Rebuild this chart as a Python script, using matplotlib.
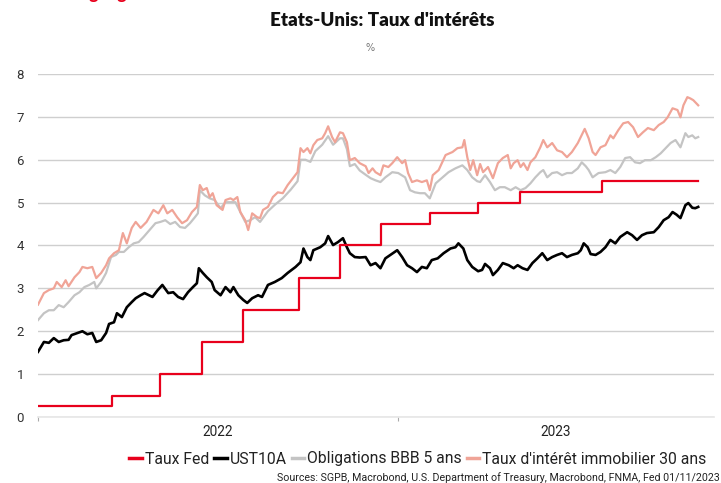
import matplotlib
matplotlib.use("Agg")
import matplotlib.pyplot as plt
from matplotlib import font_manager
from matplotlib.lines import Line2D
import pandas as pd

# ---------------- data ----------------
start = pd.Timestamp("2022-01-01")

fed_dates = ["2022-01-01", "2022-03-17", "2022-05-05", "2022-06-16", "2022-07-28",
             "2022-09-22", "2022-11-03", "2022-12-15", "2023-02-02", "2023-03-23",
             "2023-05-04", "2023-07-27", "2023-11-01"]
fed_values = [0.25, 0.5, 1.0, 1.75, 2.5, 3.25, 4.0, 4.5, 4.75, 5.0, 5.25, 5.5, 5.5]

# days since 2022-01-01
ust_days = [0, 6, 11, 16, 21, 26, 31, 34, 40, 45, 50, 55, 59, 64, 69, 72, 77, 80, 85, 90,
            95, 99, 104, 108, 116, 121, 126, 132, 137, 142, 147, 152, 157, 161, 163, 167,
            171, 176, 179, 185, 190, 195, 198, 203, 208, 212, 217, 223, 227, 233, 240, 247,
            253, 261, 266, 269, 273, 276, 279, 286, 291, 294, 299, 304, 309, 313, 316, 321,
            326, 332, 337, 342, 347, 352, 357, 364, 369, 374, 379, 384, 389, 394, 399, 405,
            411, 418, 423, 426, 431, 435, 440, 446, 450, 453, 458, 461, 466, 471, 477, 482,
            486, 491, 496, 501, 506, 511, 516, 521, 526, 531, 536, 541, 547, 550, 553, 557,
            560, 565, 570, 575, 580, 585, 590, 597, 602, 607, 612, 617, 624, 629, 634, 639,
            643, 647, 651, 656, 659, 663, 666, 669]
ust_values = [1.52, 1.75, 1.73, 1.84, 1.75, 1.79, 1.80, 1.91, 1.96, 2.00, 1.93, 1.96, 1.75,
              1.79, 1.96, 2.17, 2.21, 2.42, 2.33, 2.56, 2.68, 2.77, 2.84, 2.89, 2.80, 2.95,
              3.08, 2.89, 2.91, 2.80, 2.75, 2.91, 3.03, 3.12, 3.47, 3.36, 3.26, 3.15, 2.96,
              2.84, 3.03, 2.91, 3.03, 2.84, 2.73, 2.66, 2.77, 2.84, 2.80, 3.08, 3.15, 3.24,
              3.36, 3.50, 3.61, 3.93, 3.73, 3.66, 3.89, 3.96, 4.05, 4.22, 4.01, 4.08, 4.17,
              3.96, 3.82, 3.73, 3.72, 3.73, 3.54, 3.59, 3.47, 3.70, 3.78, 3.89, 3.73, 3.54,
              3.47, 3.38, 3.50, 3.47, 3.66, 3.70, 3.82, 3.93, 3.96, 4.05, 3.93, 3.66, 3.50,
              3.40, 3.43, 3.57, 3.47, 3.31, 3.43, 3.59, 3.54, 3.47, 3.54, 3.47, 3.43, 3.59,
              3.70, 3.82, 3.66, 3.73, 3.78, 3.82, 3.73, 3.78, 3.82, 3.89, 4.05, 3.96, 3.80,
              3.78, 3.85, 3.96, 4.13, 4.05, 4.20, 4.31, 4.24, 4.13, 4.24, 4.29, 4.31, 4.43,
              4.59, 4.66, 4.78, 4.72, 4.64, 4.94, 4.99, 4.88, 4.87, 4.90]

bbb_days = [0, 6, 11, 16, 21, 26, 31, 37, 42, 47, 52, 57, 59, 64, 69, 74, 79, 82, 87, 92,
            97, 102, 107, 113, 119, 124, 129, 134, 139, 144, 149, 154, 159, 162, 164, 169,
            174, 179, 185, 190, 195, 200, 205, 210, 215, 220, 225, 233, 240, 248, 256, 263,
            266, 271, 276, 281, 288, 294, 299, 306, 309, 313, 316, 321, 326, 332, 337, 342,
            347, 352, 359, 365, 372, 377, 382, 387, 392, 397, 403, 410, 416, 423, 430, 435,
            440, 445, 448, 453, 458, 463, 468, 473, 479, 484, 489, 494, 499, 504, 509, 512,
            516, 521, 526, 531, 536, 541, 547, 551, 555, 558, 562, 568, 575, 580, 585, 590,
            595, 600, 605, 610, 615, 621, 626, 631, 636, 641, 646, 651, 656, 659, 663, 666, 669]
bbb_values = [2.26, 2.42, 2.49, 2.49, 2.61, 2.56, 2.68, 2.84, 2.91, 3.03, 3.08, 3.15, 3.00,
              3.15, 3.36, 3.73, 3.78, 3.85, 3.85, 3.96, 4.05, 4.08, 4.20, 4.36, 4.52, 4.55,
              4.59, 4.50, 4.55, 4.43, 4.41, 4.52, 4.66, 4.75, 5.29, 5.17, 5.10, 5.06, 4.87,
              5.01, 5.01, 5.01, 4.78, 4.55, 4.59, 4.66, 4.55, 4.80, 4.95, 5.10, 5.30, 5.50,
              6.00, 6.00, 5.95, 6.20, 6.35, 6.55, 6.35, 6.50, 6.50, 6.25, 5.85, 5.90, 5.75,
              5.65, 5.57, 5.52, 5.48, 5.59, 5.71, 5.69, 5.59, 5.29, 5.24, 5.22, 5.22, 5.10,
              5.45, 5.59, 5.71, 5.80, 5.87, 5.76, 5.59, 5.50, 5.48, 5.64, 5.48, 5.29, 5.36,
              5.36, 5.29, 5.36, 5.29, 5.34, 5.45, 5.59, 5.71, 5.76, 5.59, 5.69, 5.71, 5.64,
              5.69, 5.69, 5.80, 5.94, 5.85, 5.76, 5.59, 5.69, 5.71, 5.76, 5.69, 5.83, 6.04,
              6.06, 5.94, 5.92, 5.99, 5.99, 6.06, 6.15, 6.27, 6.39, 6.46, 6.29, 6.62, 6.53,
              6.57, 6.50, 6.53]

mort_days = [0, 6, 11, 16, 19, 24, 28, 31, 37, 42, 45, 50, 55, 59, 64, 69, 72, 77, 82, 86,
             90, 95, 99, 104, 110, 114, 117, 122, 127, 131, 136, 141, 146, 151, 156, 161,
             164, 167, 171, 174, 177, 181, 187, 190, 195, 198, 202, 205, 210, 213, 217, 222,
             225, 228, 233, 238, 243, 248, 253, 259, 263, 266, 269, 273, 276, 279, 283, 288,
             291, 294, 298, 301, 306, 309, 313, 316, 321, 326, 332, 335, 339, 342, 347, 350,
             355, 359, 364, 369, 372, 375, 379, 384, 389, 394, 397, 400, 406, 413, 420, 425,
             430, 432, 435, 438, 441, 445, 448, 451, 456, 461, 466, 471, 476, 479, 482, 486,
             489, 492, 496, 499, 504, 509, 512, 516, 521, 526, 531, 536, 541, 547, 550, 554,
             558, 562, 565, 570, 575, 580, 583, 588, 593, 598, 603, 608, 613, 618, 624, 629,
             634, 638, 643, 648, 651, 654, 658, 661, 664, 669]
mort_values = [2.62, 2.89, 2.96, 3.00, 3.15, 3.03, 3.19, 3.05, 3.26, 3.38, 3.50, 3.47, 3.50,
               3.24, 3.36, 3.54, 3.70, 3.82, 3.89, 4.29, 4.05, 4.41, 4.55, 4.41, 4.55, 4.71,
               4.83, 4.75, 4.94, 4.75, 4.83, 4.66, 4.52, 4.59, 4.78, 4.90, 5.41, 5.29, 5.34,
               5.13, 5.22, 4.94, 4.83, 5.06, 5.10, 5.06, 5.13, 4.78, 4.59, 4.36, 4.75, 4.66,
               4.64, 4.83, 4.90, 5.13, 5.24, 5.22, 5.41, 5.59, 5.71, 6.27, 6.18, 6.27, 6.15,
               6.34, 6.46, 6.50, 6.62, 6.78, 6.53, 6.41, 6.64, 6.62, 6.41, 5.99, 6.04, 5.92,
               5.85, 5.69, 5.80, 5.71, 5.64, 5.87, 5.83, 5.92, 6.06, 5.92, 5.99, 5.69, 5.48,
               5.52, 5.48, 5.52, 5.29, 5.64, 5.76, 6.11, 6.18, 6.27, 6.29, 6.46, 6.06, 5.76,
               5.99, 5.64, 5.90, 5.71, 5.83, 5.57, 5.92, 6.04, 6.11, 5.80, 5.92, 5.99, 5.83,
               5.92, 5.76, 5.94, 6.06, 6.29, 6.46, 6.29, 6.39, 6.22, 6.18, 6.06, 6.18, 6.39,
               6.53, 6.72, 6.50, 6.18, 6.11, 6.29, 6.34, 6.57, 6.50, 6.69, 6.85, 6.88, 6.76,
               6.53, 6.64, 6.74, 6.69, 6.81, 6.88, 6.99, 7.20, 7.16, 6.99, 7.27, 7.46, 7.43,
               7.39, 7.27]

series_names = ["Taux Fed", "UST10A", "Obligations BBB 5 ans", "Taux d'intérêt immobilier 30 ans"]
y_ticks = [0, 1, 2, 3, 4, 5, 6, 7, 8]
year_labels = ["2022", "2023"]
title = "Etats-Unis: Taux d'intérêts"
unit = "%"
source = "Sources: SGPB, Macrobond, U.S. Department of Treasury, Macrobond, FNMA, Fed 01/11/2023"
header = "Stratégie g"

# ---------------- fonts ----------------
avail = {f.name for f in font_manager.fontManager.ttflist}
def pick(*names):
    for n in names:
        if n in avail:
            return n
    return "DejaVu Sans"
narrow = pick("Liberation Sans Narrow", "Roboto", "Open Sans")
titlef = pick("Lato", "Open Sans", "Roboto")

# ---------------- plot ----------------
fig = plt.figure(figsize=(7.21, 4.83), dpi=100)
ax = fig.add_axes([38/721, 1-417/483, (714-38)/721, (417-74)/483])

to_dates = lambda d: start + pd.to_timedelta(d, unit="D")
c_fed, c_ust, c_bbb, c_mort = "#e8001c", "#000000", "#c4c4c4", "#f0a497"

ax.plot(to_dates(bbb_days), bbb_values, color=c_bbb, lw=1.6, zorder=2)
ax.plot(to_dates(mort_days), mort_values, color=c_mort, lw=1.6, zorder=3)
ax.plot(to_dates(ust_days), ust_values, color=c_ust, lw=1.9, zorder=4)
ax.plot(pd.to_datetime(fed_dates), fed_values, color=c_fed, lw=1.6, drawstyle="steps-post", zorder=5)

xmin = start
xmax = pd.Timestamp("2023-11-17")
ax.set_xlim(xmin, xmax)
ax.set_ylim(0, 8)

ax.set_yticks(y_ticks)
ax.set_yticklabels([str(t) for t in y_ticks], fontsize=9.5, color="#333333", family=narrow)
ax.tick_params(axis="y", length=0, pad=10)
ax.grid(axis="y", color="#cfcfcf", lw=1)
ax.set_axisbelow(True)

# year ticks & centered labels
year_starts = [pd.Timestamp(f"{y}-01-01") for y in year_labels]
ax.set_xticks(year_starts)
ax.set_xticklabels([])
ax.tick_params(axis="x", which="major", length=3, color="#aaaaaa", width=0.8)
mids = []
for y in year_labels:
    a = max(pd.Timestamp(f"{y}-01-01"), xmin)
    b = min(pd.Timestamp(f"{int(y)+1}-01-01"), xmax)
    mids.append(a + (b - a) / 2)
ax.set_xticks(mids, minor=True)
ax.set_xticklabels(year_labels, minor=True, fontsize=9.8, color="#222222", family=narrow)
ax.tick_params(axis="x", which="minor", length=0, pad=6)

for s in ["top", "right", "left"]:
    ax.spines[s].set_visible(False)
ax.spines["bottom"].set_color("#e6e6e6")
ax.spines["bottom"].set_linewidth(1.2)

# title
fig.text(382/721, 1-20/483, title, ha="center", va="center", fontsize=13.5,
         fontweight="heavy", family=titlef, color="#111111")
fig.text(370/721, 1-48/483, unit, ha="center", va="center", fontsize=7, color="#777777")
# clipped red header (only the descenders visible, as in the reference)
fig.text(40/721, 1.0 + 1.5/483, header, ha="left", va="baseline", fontsize=13,
         fontweight="bold", color=c_fed, family=titlef)

# legend
handles = [Line2D([], [], color=c, lw=2.5) for c in [c_fed, c_ust, c_bbb, c_mort]]
leg = fig.legend(handles, series_names, loc="center", bbox_to_anchor=(418/721, 1-459/483),
                 ncol=4, frameon=False, handlelength=0.8, handletextpad=0.2,
                 columnspacing=0.3, prop={"family": narrow, "size": 11.3})
for t in leg.get_texts():
    t.set_color("#222222")

fig.text(720/721, 1-478/483, source, ha="right", va="center", fontsize=7.7,
         color="#222222", family=narrow)

fig.savefig("out.png", dpi=100)
